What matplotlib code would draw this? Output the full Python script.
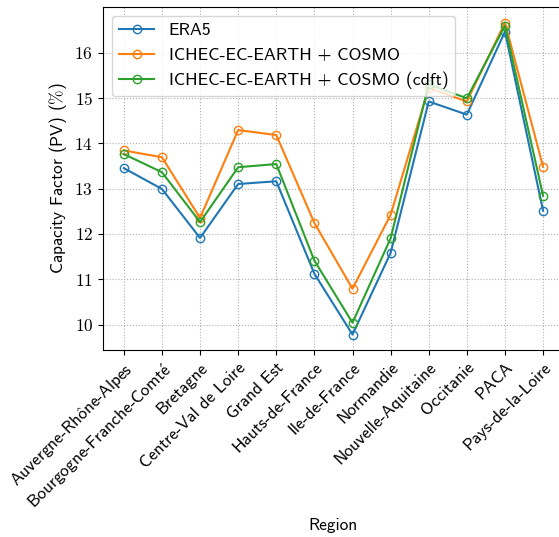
import numpy as np
import matplotlib
matplotlib.use('Agg')
import matplotlib.pyplot as plt

plt.rcParams['font.family'] = ['cmss10', 'DejaVu Sans']
plt.rcParams['mathtext.fontset'] = 'cm'
plt.rcParams['axes.formatter.use_mathtext'] = True
plt.rcParams['axes.unicode_minus'] = False

# accented letters written through mathtext so the sans font keeps them clean
regions = ['Auvergne-Rh$\\hat{\\mathsf{o}}$ne-Alpes',
           'Bourgogne-Franche-Comt$\\acute{\\mathsf{e}}$', 'Bretagne',
           'Centre-Val de Loire', 'Grand Est', 'Hauts-de-France',
           'Ile-de-France', 'Normandie', 'Nouvelle-Aquitaine', 'Occitanie',
           'PACA', 'Pays-de-la-Loire']

cf_era5 = [13.45, 12.99, 11.91, 13.10, 13.16, 11.12, 9.78, 11.58, 14.92, 14.63, 16.46, 12.51]
cf_cosmo = [13.84, 13.69, 12.35, 14.29, 14.18, 12.24, 10.79, 12.42, 15.22, 14.92, 16.66, 13.48]
cf_cosmo_cdft = [13.76, 13.36, 12.26, 13.47, 13.54, 11.41, 10.04, 11.90, 15.30, 14.99, 16.59, 12.84]

fig = plt.figure(figsize=(5.59, 5.37), dpi=100)
ax = fig.add_axes([0.184, 0.348, 0.825, 0.639])

x = np.arange(len(regions))
ax.plot(x, cf_era5, marker='o', mfc='none', ms=6, lw=1.5, label='ERA5')
ax.plot(x, cf_cosmo, marker='o', mfc='none', ms=6, lw=1.5,
        label='ICHEC-EC-EARTH + COSMO')
ax.plot(x, cf_cosmo_cdft, marker='o', mfc='none', ms=6, lw=1.5,
        label='ICHEC-EC-EARTH + COSMO (cdft)')

ax.set_xticks(x)
ax.set_xticklabels(regions, rotation=45, ha='right', rotation_mode='anchor',
                   fontsize=12.5)
ax.set_yticks([10, 11, 12, 13, 14, 15, 16])
ax.set_yticklabels([r'$%d$' % v for v in [10, 11, 12, 13, 14, 15, 16]], fontsize=12.5)
ax.grid(True, linestyle=':', color='#b0b0b0')
ax.set_xlabel('Region', fontsize=12.5)
ax.set_ylabel(r'Capacity Factor (PV) ($\%$)', fontsize=12.5)
ax.legend(loc='upper left', fontsize=12.8)

fig.savefig('out.png', dpi=100)
